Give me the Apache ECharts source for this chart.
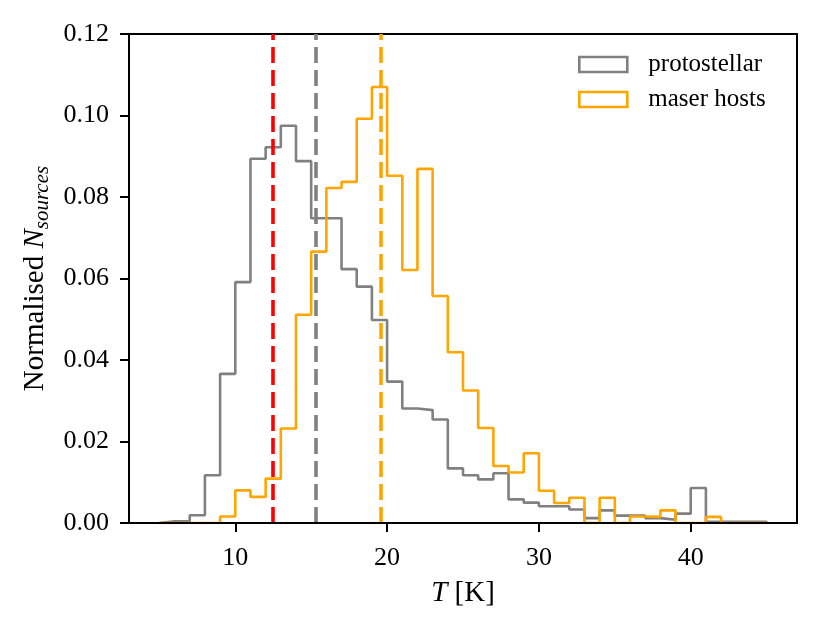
<!DOCTYPE html>
<html lang="en">
<head>
  <meta charset="UTF-8">
  <script src="https://cdn.jsdelivr.net/npm/echarts@6/dist/echarts.min.js"></script>
  <title>T histogram</title>
  <style>
    html, body { margin: 0; padding: 0; background: #ffffff; }
    #chart { width: 830px; height: 630px; }
  </style>
</head>
<body>
  <div id="chart"></div>

<script>
  // left bin edges (1 K wide bins)
  const binEdges = [5, 6, 7, 8, 9, 10, 11, 12, 13, 14, 15, 16, 17, 18, 19, 20, 21, 22, 23, 24,
    25, 26, 27, 28, 29, 30, 31, 32, 33, 34, 35, 36, 37, 38, 39, 40, 41, 42, 43, 44];

  const protostellar = [0.0004, 0.0004, 0.0019, 0.0117, 0.0366, 0.0591, 0.0894, 0.0922, 0.0975, 0.0888,
    0.0748, 0.0748, 0.0623, 0.0580, 0.0498, 0.0347, 0.0281, 0.0277, 0.0254, 0.0134,
    0.0117, 0.0107, 0.0122, 0.0058, 0.0050, 0.0041, 0.0041, 0.0033, 0.0012, 0.0031,
    0.0018, 0.0018, 0.0012, 0.0008, 0.0023, 0.0086, 0.0003, 0.0003, 0.0003, 0.0003];

  const maserHosts = [0, 0, 0, 0, 0.0016, 0.0080, 0.0064, 0.0109, 0.0232, 0.0511,
    0.0666, 0.0822, 0.0837, 0.0992, 0.1070, 0.0852, 0.0621, 0.0869, 0.0557, 0.0419,
    0.0325, 0.0233, 0.0140, 0.0124, 0.0171, 0.0079, 0.0049, 0.0062, 0, 0.0062,
    0, 0.0016, 0.0015, 0.0031, 0, 0, 0.0015, 0, 0, 0];

  // vertical dashed markers
  const medianAll = 12.49;
  const medianProto = 15.31;
  const medianMaser = 19.59;

  const xTicks = [10, 20, 30, 40];
  const FONT = '"Liberation Serif", "DejaVu Serif", serif';

  // step outline like matplotlib histtype='step'
  function stepPoints(values) {
    const pts = [[binEdges[0], 0]];
    for (let i = 0; i < values.length; i++) {
      pts.push([binEdges[i], values[i]]);
    }
    const last = binEdges[binEdges.length - 1] + 1;
    pts.push([last, values[values.length - 1]]);
    pts.push([last, 0]);
    return pts;
  }

  function vline(x, color) {
    return { xAxis: x, lineStyle: { color: color, type: [16, 7], width: 3.6 } };
  }

  const chart = echarts.init(document.getElementById('chart'), null, { renderer: 'canvas' });

  const option = {
    animation: false,
    backgroundColor: '#ffffff',
    grid: {
      left: 129, right: 33, top: 34, bottom: 107,
      show: true, borderColor: '#000000', borderWidth: 2, backgroundColor: 'transparent'
    },
    legend: {
      orient: 'vertical',
      left: 573, top: 47,
      itemWidth: 48, itemHeight: 15,
      itemGap: 10,
      selectedMode: false,
      textStyle: { fontFamily: FONT, fontSize: 25, color: '#000', lineHeight: 24, padding: [0, 0, 0, 16] },
      data: [
        { name: 'protostellar', icon: 'rect', itemStyle: { color: '#ffffff', borderColor: '#808080', borderWidth: 2.6 } },
        { name: 'maser hosts', icon: 'rect', itemStyle: { color: '#ffffff', borderColor: '#FFA500', borderWidth: 2.6 } }
      ]
    },
    xAxis: {
      type: 'value',
      min: 3, max: 47,
      z: 10,
      name: '{i|T} [K]',
      nameLocation: 'middle',
      nameGap: 56,
      nameTextStyle: {
        fontFamily: FONT, fontSize: 29, color: '#000',
        rich: { i: { fontFamily: FONT, fontSize: 29, fontStyle: 'italic', color: '#000' } }
      },
      splitLine: { show: false },
      axisLine: { show: true, onZero: false, lineStyle: { color: '#000', width: 2 } },
      axisTick: { show: true, inside: false, length: 9, lineStyle: { color: '#000', width: 2 }, customValues: xTicks },
      axisLabel: { fontFamily: FONT, fontSize: 26, color: '#000', margin: 22, customValues: xTicks }
    },
    yAxis: {
      type: 'value',
      min: 0, max: 0.12, interval: 0.02,
      z: 10,
      name: '{a|Normalised }{n|N}{s|sources}',
      nameLocation: 'middle',
      nameGap: 74,
      nameTextStyle: {
        fontFamily: FONT, fontSize: 29, color: '#000',
        rich: {
          a: { fontFamily: FONT, fontSize: 29, color: '#000', lineHeight: 34, verticalAlign: 'middle' },
          n: { fontFamily: FONT, fontSize: 29, fontStyle: 'italic', color: '#000', lineHeight: 34, verticalAlign: 'middle' },
          s: { fontFamily: FONT, fontSize: 21, fontStyle: 'italic', color: '#000', lineHeight: 18, verticalAlign: 'bottom' }
        }
      },
      splitLine: { show: false },
      axisLine: { show: true, lineStyle: { color: '#000', width: 2 } },
      axisTick: { show: true, inside: false, length: 9, lineStyle: { color: '#000', width: 2 } },
      axisLabel: {
        fontFamily: FONT, fontSize: 26, color: '#000', margin: 20,
        formatter: v => v.toFixed(2)
      }
    },
    series: [
      {
        name: 'protostellar',
        type: 'line',
        step: 'end',
        showSymbol: false,
        data: stepPoints(protostellar),
        lineStyle: { color: '#808080', width: 2.6 },
        itemStyle: { color: '#808080' },
        markLine: {
          silent: true, symbol: ['none', 'none'], label: { show: false },
          data: [vline(medianAll, '#FF0000'), vline(medianProto, '#808080')]
        }
      },
      {
        name: 'maser hosts',
        type: 'line',
        step: 'end',
        showSymbol: false,
        data: stepPoints(maserHosts),
        lineStyle: { color: '#FFA500', width: 2.6 },
        itemStyle: { color: '#FFA500' },
        markLine: {
          silent: true, symbol: ['none', 'none'], label: { show: false },
          data: [vline(medianMaser, '#FFA500')]
        }
      }
    ]
  };

  chart.setOption(option);
</script>
</body>
</html>
